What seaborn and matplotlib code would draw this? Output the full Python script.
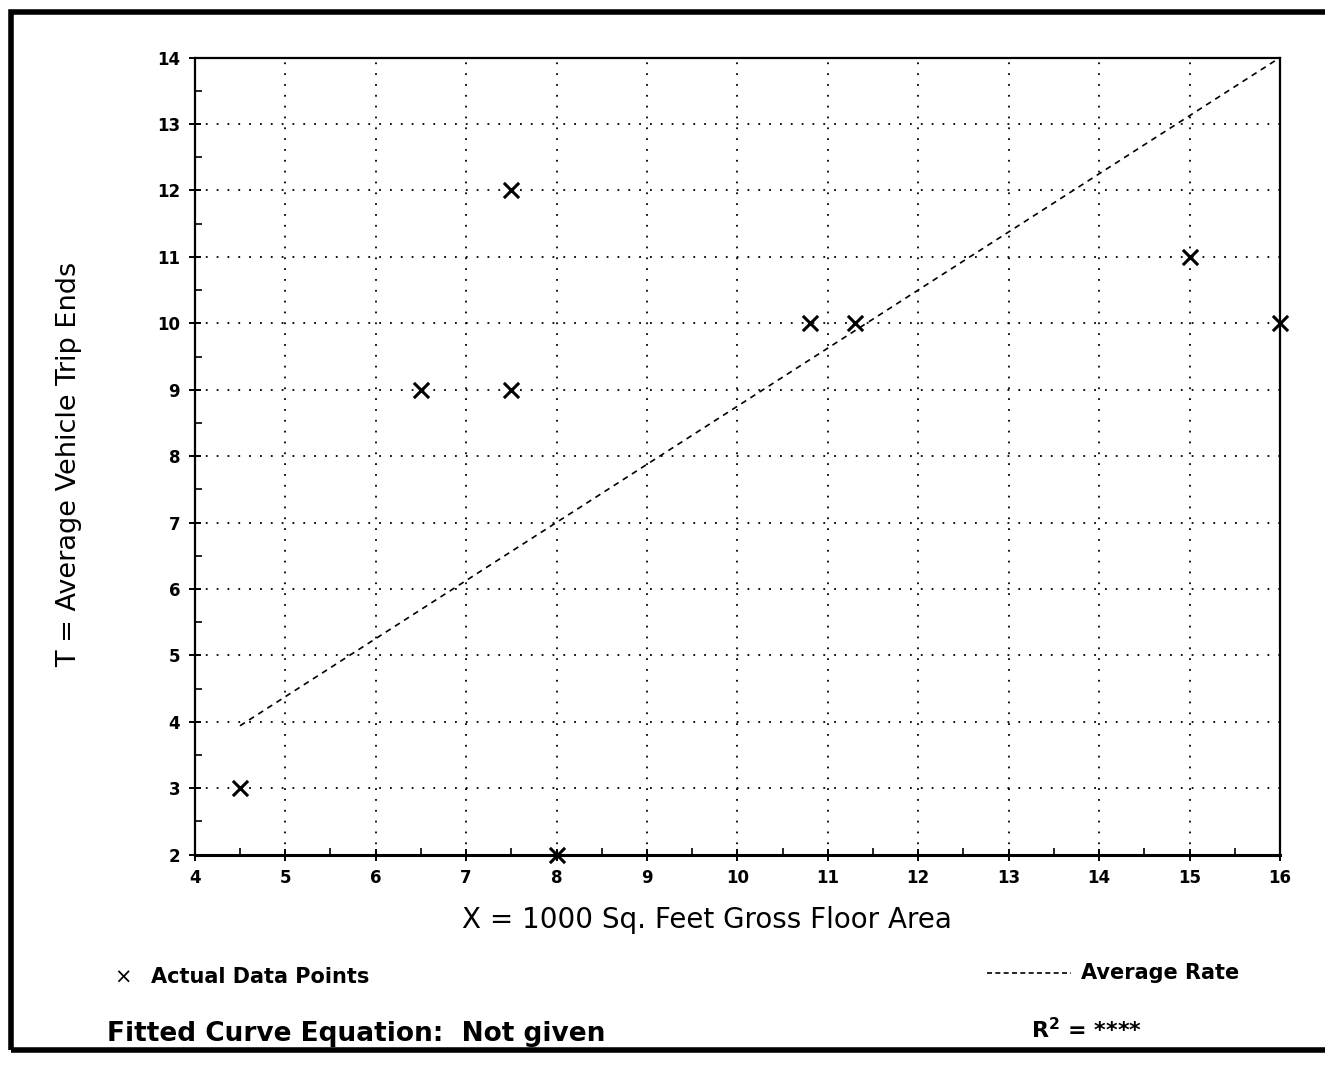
import matplotlib
matplotlib.use("Agg")
import matplotlib.pyplot as plt
import seaborn as sns
import pandas as pd
from matplotlib.lines import Line2D
from matplotlib.patches import Rectangle

# data
pts_x = [4.5, 6.5, 7.5, 7.5, 8.0, 10.8, 11.3, 15.0, 16.0]
pts_y = [3, 9, 9, 12, 2, 10, 10, 11, 10]
avg_x = [4.5, 16.0]
avg_y = [3.94, 14.0]
x_ticks = list(range(4, 17))
y_ticks = list(range(2, 15))

sns.set_theme(style="white")
plt.rcParams['font.family'] = ['DejaVu Sans']

fig = plt.figure(figsize=(13.25, 10.67), dpi=100)
ax = fig.add_axes([0.147, 0.199, 0.819, 0.747])

df_pts = pd.DataFrame({"x": pts_x, "y": pts_y})
df_avg = pd.DataFrame({"x": avg_x, "y": avg_y})

sns.lineplot(data=df_avg, x="x", y="y", ax=ax, color="black",
             linestyle=(0, (3.5, 3)), linewidth=1.2, zorder=3)
sns.scatterplot(data=df_pts, x="x", y="y", ax=ax, marker="x", s=120,
                color="black", linewidth=2.2, zorder=4, clip_on=False)

ax.set_xlim(4, 16)
ax.set_ylim(2, 14)
ax.set_xticks(x_ticks)
ax.set_yticks(y_ticks)
ax.set_xticks([v + 0.5 for v in x_ticks[:-1]], minor=True)
ax.set_yticks([v + 0.5 for v in y_ticks[:-1]], minor=True)
ax.grid(True, which="major", color="black", linestyle=(0, (1, 5)), linewidth=1.3)
ax.tick_params(which="major", direction="inout", length=9, width=1.4, color="black",
               labelcolor="black", labelsize=12, pad=6, bottom=True, left=True)
ax.tick_params(which="minor", direction="in", length=5, width=1.2, color="black",
               bottom=True, left=True)
for lab in ax.get_xticklabels() + ax.get_yticklabels():
    lab.set_fontweight("bold")
for sp in ax.spines.values():
    sp.set_visible(True)
    sp.set_color("black")
ax.spines["bottom"].set_linewidth(2.2)
ax.spines["left"].set_linewidth(1.6)
ax.spines["top"].set_linewidth(1.6)
ax.spines["right"].set_linewidth(1.6)

ax.set_xlabel("X = 1000 Sq. Feet Gross Floor Area", fontsize=20, color="black")
ax.set_ylabel("T = Average Vehicle Trip Ends", fontsize=19.5, color="black")
ax.xaxis.set_label_coords(0.472, -0.064)
ax.yaxis.set_label_coords(-0.104, 0.49)

# legend / annotations
fig.text(0.086, 0.084, "\u00d7", fontsize=15, ha="left", va="center", color="black")
fig.text(0.114, 0.084, "Actual Data Points", fontsize=15, fontweight="bold",
         ha="left", va="center", color="black")
fig.add_artist(Line2D([0.745, 0.808], [0.088, 0.088], color="black",
                      linestyle=(0, (3, 2)), linewidth=1.2))
fig.text(0.816, 0.088, "Average Rate", fontsize=15, fontweight="bold",
         ha="left", va="center", color="black")
fig.text(0.081, 0.031, "Fitted Curve Equation:  Not given", fontsize=19,
         fontweight="bold", ha="left", va="center", color="black")
fig.text(0.778, 0.035, r"R$^{\mathbf{2}}$ = ****", fontsize=16,
         fontweight="bold", ha="left", va="center", color="black")

# outer frame
fig.add_artist(Rectangle((0.008, 0.016), 1.2, 0.973, transform=fig.transFigure,
                         fill=False, edgecolor="black", linewidth=4, clip_on=False))

fig.savefig("out.png", dpi=100, facecolor="white")
